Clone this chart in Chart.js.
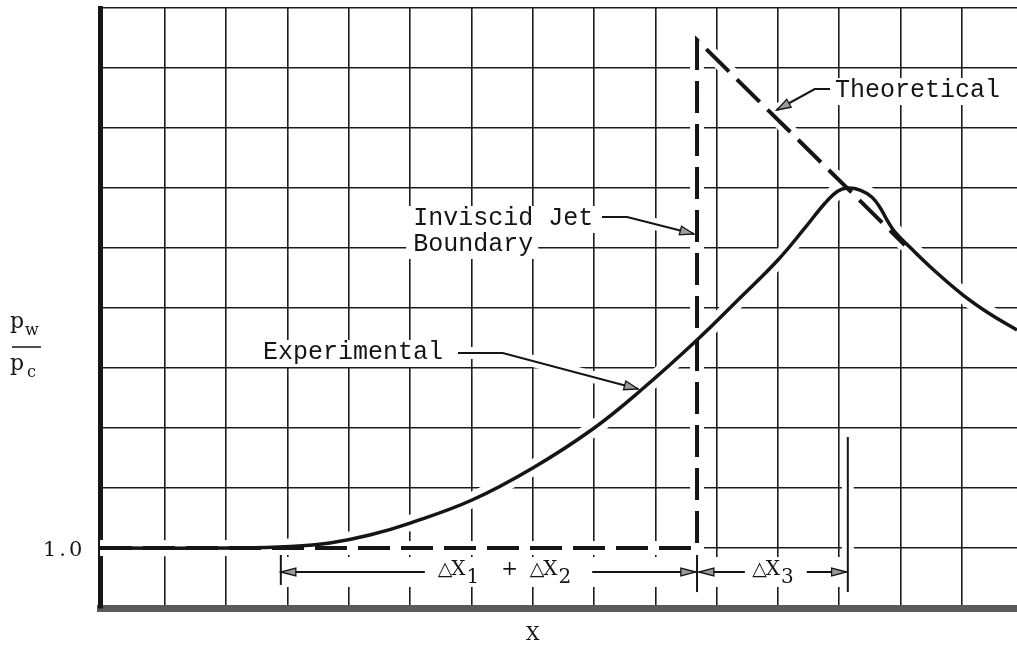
<!DOCTYPE html>
<html>
<head>
<meta charset="utf-8">
<script src="https://cdn.jsdelivr.net/npm/chart.js@4.4.1/dist/chart.umd.min.js"></script>
<style>
  html, body { margin: 0; padding: 0; background: #fff; }
  #wrap { width: 1017px; height: 648px; position: relative; }
</style>
</head>
<body>
<div id="wrap"><canvas id="jetChart"></canvas></div>
<script>
// Experimental wall pressure curve (x in grid units, y = pw/pc)
const expX = [-0.06, 2.22, 3.04, 3.69, 4.34, 5.00, 6.01, 7.00, 7.98, 8.75, 9.68, 10.38, 11.0, 11.44, 11.77, 11.98, 12.14, 12.34, 12.53, 12.66, 12.78, 12.91, 13.15, 13.56, 14.02, 14.46, 14.9];
const expY = [1.0, 1.0, 1.012, 1.042, 1.108, 1.208, 1.40, 1.667, 1.992, 2.308, 2.733, 3.083, 3.40, 3.667, 3.875, 3.975, 4.0, 3.983, 3.925, 3.842, 3.733, 3.633, 3.508, 3.308, 3.108, 2.95, 2.817];

// Theoretical (inviscid) distribution
const theoX = [-0.06, 9.68, 9.68, 13.07];
const theoY = [1.0, 1.0, 5.233, 3.525];

// grid / tick positions
const xGrid = [1, 2, 3, 4, 5, 6, 7, 8, 9, 10, 11, 12, 13, 14];
const yGrid = [0.5, 1.0, 1.5, 2.0, 2.5, 3.0, 3.5, 4.0, 4.5, 5.0, 5.5];
const yTickLabels = [{ v: 1.0, text: '1.0' }];

// callout labels and their leader lines (data units)
const labels = [
  { text: 'Theoretical', u: 11.93, v: 4.758 },
  { text: 'Inviscid Jet', u: 5.05, v: 3.692 },
  { text: 'Boundary', u: 5.05, v: 3.475 },
  { text: 'Experimental', u: 2.60, v: 2.575 }
];
const leaders = [
  [[11.85, 4.825], [11.60, 4.825], [10.98, 4.65]],
  [[8.13, 3.758], [8.54, 3.758], [9.63, 3.617]],
  [[5.78, 2.625], [6.51, 2.625], [8.72, 2.325]]
];

// dimension lines under the curve
const dimV = 0.8;
const dimTicks = [[2.89, 0.942, 0.692], [9.68, 0.942, 0.633], [12.14, 1.925, 0.633]];
const dimSegs = [[5.24, 2.89], [7.97, 9.66], [10.46, 9.71], [11.47, 12.12]]; // arrow at second end

const INK = '#151515';
const MONO = '"Liberation Mono", "Courier New", monospace';
const SERIF = '"DejaVu Serif", "Liberation Serif", serif';

function arrowHead(ctx, x0, y0, x1, y1, len, half) {
  const a = Math.atan2(y1 - y0, x1 - x0);
  const bx = x1 - len * Math.cos(a), by = y1 - len * Math.sin(a);
  ctx.beginPath();
  ctx.moveTo(x1, y1);
  ctx.lineTo(bx + half * Math.sin(a), by - half * Math.cos(a));
  ctx.lineTo(bx - half * Math.sin(a), by + half * Math.cos(a));
  ctx.closePath();
  ctx.fillStyle = '#9a9a9a';
  ctx.fill();
  ctx.lineWidth = 1.3;
  ctx.strokeStyle = INK;
  ctx.stroke();
}

// draws "△X" followed by a dropped subscript, returns end x
function deltaX(ctx, x, base, sub) {
  ctx.font = '19px "DejaVu Sans", sans-serif';
  ctx.fillText('\u25B3', x, base);
  x += ctx.measureText('\u25B3').width - 1;
  ctx.font = '20px ' + SERIF;
  ctx.fillText('X', x, base);
  x += ctx.measureText('X').width;
  ctx.fillText(sub, x + 1, base + 8);
  return x + 1 + ctx.measureText(sub).width;
}

const annotations = {
  id: 'annotations',
  beforeDatasetsDraw(chart) {
    const ctx = chart.ctx, xs = chart.scales.x, ys = chart.scales.y;
    const px = u => xs.getPixelForValue(u), py = v => ys.getPixelForValue(v);
    ctx.save();
    ctx.fillStyle = '#fff';
    ctx.strokeStyle = '#fff';
    // white gaps in the grid behind text and thin lines
    ctx.font = '25px ' + MONO;
    labels.forEach(l => {
      const w = ctx.measureText(l.text).width;
      ctx.fillRect(px(l.u) - 7, py(l.v) - 19, w + 12, 27);
    });
    ctx.fillRect(px(2.89) - 5, py(dimV) - 15, px(12.14) - px(2.89) + 10, 30);
    ctx.lineWidth = 12;
    leaders.forEach(pts => {
      ctx.beginPath();
      pts.forEach((p, i) => i ? ctx.lineTo(px(p[0]), py(p[1])) : ctx.moveTo(px(p[0]), py(p[1])));
      ctx.stroke();
    });
    ctx.beginPath();
    ctx.moveTo(px(12.14), py(1.925));
    ctx.lineTo(px(12.14), py(0.633));
    ctx.stroke();
    ctx.restore();
  },
  afterDatasetsDraw(chart) {
    const ctx = chart.ctx, xs = chart.scales.x, ys = chart.scales.y;
    const px = u => xs.getPixelForValue(u), py = v => ys.getPixelForValue(v);
    ctx.save();
    ctx.strokeStyle = INK;
    ctx.fillStyle = INK;
    ctx.lineCap = 'butt';

    // leader lines
    leaders.forEach(pts => {
      ctx.lineWidth = 2;
      ctx.beginPath();
      pts.forEach((p, i) => i ? ctx.lineTo(px(p[0]), py(p[1])) : ctx.moveTo(px(p[0]), py(p[1])));
      ctx.stroke();
      const a = pts[pts.length - 2], b = pts[pts.length - 1];
      arrowHead(ctx, px(a[0]), py(a[1]), px(b[0]), py(b[1]), 14, 4.5);
    });

    // dimension ticks and arrows
    ctx.lineWidth = 2;
    dimTicks.forEach(t => {
      ctx.beginPath();
      ctx.moveTo(px(t[0]), py(t[1]));
      ctx.lineTo(px(t[0]), py(t[2]));
      ctx.stroke();
    });
    dimSegs.forEach(s => {
      ctx.lineWidth = 2;
      ctx.beginPath();
      ctx.moveTo(px(s[0]), py(dimV));
      ctx.lineTo(px(s[1]), py(dimV));
      ctx.stroke();
      arrowHead(ctx, px(s[0]), py(dimV), px(s[1]), py(dimV), 15, 4);
    });

    // callout text
    ctx.fillStyle = INK;
    ctx.font = '25px ' + MONO;
    ctx.textBaseline = 'alphabetic';
    labels.forEach(l => ctx.fillText(l.text, px(l.u), py(l.v)));

    // dimension text
    const base = py(0.775);
    let x = deltaX(ctx, px(5.45), base, '1');
    ctx.font = '20px ' + SERIF;
    ctx.fillText('+', x + 22, base);
    deltaX(ctx, px(6.95), base, '2');
    deltaX(ctx, px(10.58), base, '3');

    // y tick label
    ctx.font = '21px ' + SERIF;
    ctx.letterSpacing = '3px';
    yTickLabels.forEach(t => ctx.fillText(t.text, 43, py(t.v) + 8));
    ctx.letterSpacing = '0px';

    // axis titles
    ctx.font = '22px ' + SERIF;
    ctx.fillText('p', 10, 328);
    ctx.fillText('p', 10, 370);
    ctx.font = '16px ' + SERIF;
    ctx.fillText('w', 25, 335);
    ctx.fillText('c', 27, 377);
    ctx.lineWidth = 1.5;
    ctx.beginPath();
    ctx.moveTo(12, 347);
    ctx.lineTo(41, 347);
    ctx.stroke();
    ctx.font = '19px ' + SERIF;
    ctx.textAlign = 'center';
    ctx.fillText('X', px(7.0), 640);
    ctx.restore();
  }
};

window.onload = function () {
  const ctx = document.getElementById('jetChart').getContext('2d');
  const expData = expX.map((x, i) => ({ x: x, y: expY[i] }));
  const theoData = theoX.map((x, i) => ({ x: x, y: theoY[i] }));

  new Chart(ctx, {
    type: 'line',
    data: {
      datasets: [
        {
          label: 'Experimental',
          data: expData,
          borderColor: INK,
          borderWidth: 3.5,
          pointRadius: 0,
          tension: 0.4,
          order: 0
        },
        {
          label: 'Theoretical',
          data: theoData,
          borderColor: INK,
          borderWidth: 4,
          borderDash: [32, 11],
          pointRadius: 0,
          tension: 0,
          order: 1
        },
        // white halos so the grid breaks around the curves
        {
          label: 'exp-halo',
          data: expData,
          borderColor: '#fff',
          borderWidth: 16,
          pointRadius: 0,
          tension: 0.4,
          order: 10
        },
        {
          label: 'theo-halo',
          data: theoData,
          borderColor: '#fff',
          borderWidth: 14,
          pointRadius: 0,
          tension: 0,
          order: 11
        }
      ]
    },
    options: {
      responsive: true,
      maintainAspectRatio: false,
      animation: false,
      layout: { padding: { top: 8, right: 0, left: 0, bottom: 0 } },
      plugins: {
        legend: { display: false },
        tooltip: { enabled: false }
      },
      scales: {
        x: {
          type: 'linear',
          min: -0.06,
          max: 14.9,
          afterBuildTicks: scale => { scale.ticks = xGrid.map(v => ({ value: v })); },
          afterFit: scale => { scale.height = 40; },
          ticks: { display: false },
          grid: { color: '#1c1c1c', lineWidth: 1.6, drawTicks: false },
          border: { display: true, color: '#5a5a5a', width: 7 }
        },
        y: {
          type: 'linear',
          min: 0.5,
          max: 5.5,
          afterBuildTicks: scale => { scale.ticks = yGrid.map(v => ({ value: v })); },
          afterFit: scale => { scale.width = 100; },
          ticks: { display: false },
          grid: { color: '#1c1c1c', lineWidth: 1.6, drawTicks: false },
          border: { display: true, color: '#161616', width: 5 }
        }
      }
    },
    plugins: [annotations]
  });
};
</script>
</body>
</html>
